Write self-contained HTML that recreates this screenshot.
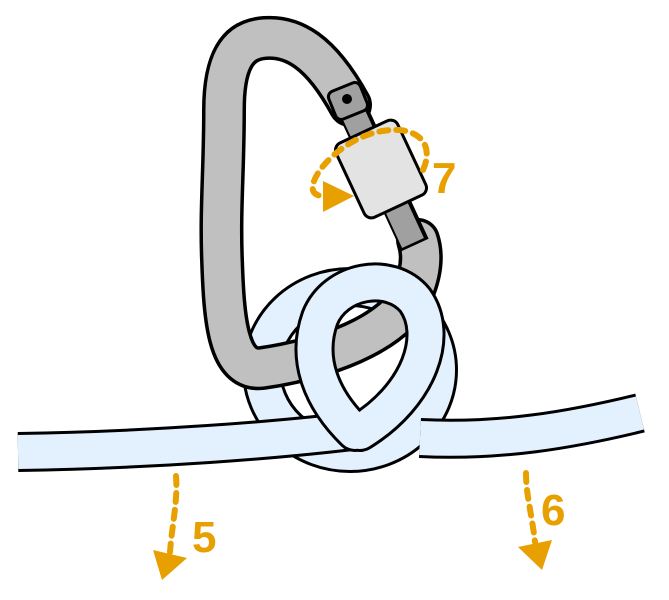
<!DOCTYPE html>
<html><head><style>html,body{margin:0;padding:0;background:#fff}svg{display:block}</style></head><body>
<svg width="669" height="600" viewBox="0 0 669 600" xmlns="http://www.w3.org/2000/svg">
<g fill="none" stroke-linecap="round" stroke-linejoin="round">
<ellipse cx="350" cy="370" rx="88" ry="83" stroke="#000" stroke-width="40"/>
<ellipse cx="350" cy="370" rx="88" ry="83" stroke="#e3f1fe" stroke-width="34"/>
<path d="M350 105 C320 50 292 36 265 38 C235 40 224 65 224 110 C224 170 220 210 222 260 C224 320 228 372 262 368 C320 360 395 335 413 292 C423 268 422 252 418 240" stroke="#000" stroke-width="44"/>
<path d="M350 105 C320 50 292 36 265 38 C235 40 224 65 224 110 C224 170 220 210 222 260 C224 320 228 372 262 368 C320 360 395 335 413 292 C423 268 422 252 418 240" stroke="#c0c0c0" stroke-width="37"/>
<path d="M348 100 L415 245" stroke="#000" stroke-width="30" stroke-linecap="butt"/>
<path d="M348 102 L413 243" stroke="#a0a0a0" stroke-width="24" stroke-linecap="butt"/>
</g>
<rect x="331" y="86" width="34" height="30" rx="6" transform="rotate(-22 348 101)" fill="#a0a0a0" stroke="#000" stroke-width="3"/>
<circle cx="347" cy="99" r="5" fill="#000"/>
<rect x="347" y="128" width="68" height="82" rx="8" transform="rotate(-25 381 169)" fill="#e3e3e3" stroke="#000" stroke-width="3"/>
<g fill="none" stroke-linecap="round" stroke-linejoin="round">
<path d="M18 452 C150 450 280 440 360 430" stroke="#000" stroke-width="40" stroke-linecap="butt"/>
<path d="M18 452 C150 450 280 440 360 430" stroke="#e3f1fe" stroke-width="34" stroke-linecap="butt"/>
<path d="M420 438 C500 442 570 430 640 413" stroke="#000" stroke-width="40" stroke-linecap="butt"/>
<path d="M420 438 C500 442 570 430 640 413" stroke="#e3f1fe" stroke-width="34" stroke-linecap="butt"/>
<path d="M355 432 C322 400 305 360 320 318 C335 280 390 270 415 300 C440 335 420 395 360 432" stroke="#000" stroke-width="40"/>
<path d="M355 432 C322 400 305 360 320 318 C335 280 390 270 415 300 C440 335 420 395 360 432" stroke="#e3f1fe" stroke-width="34"/>
<path d="M176 476 C178 500 172 525 170 552" stroke="#e8a000" stroke-width="6" stroke-dasharray="9 8"/>
<path d="M526 473 C526 495 532 515 535 542" stroke="#e8a000" stroke-width="6" stroke-dasharray="9 8"/>
<path d="M423 170 C432 150 425 133 400 130 C365 128 335 150 320 170 C308 188 312 195 322 196" stroke="#e8a000" stroke-width="6" stroke-dasharray="9 8"/>
</g>
<polygon points="153,550 187,558 162,580" fill="#e8a000"/>
<polygon points="518,547 552,540 542,570" fill="#e8a000"/>
<polygon points="323,181 354,196 323,212" fill="#e8a000"/>
<g font-family="Liberation Sans, sans-serif" font-weight="bold" font-size="44" fill="#e8a000">
<text x="192" y="552">5</text>
<text x="541" y="525">6</text>
<text x="432" y="193">7</text>
</g>
</svg>
</body></html>
